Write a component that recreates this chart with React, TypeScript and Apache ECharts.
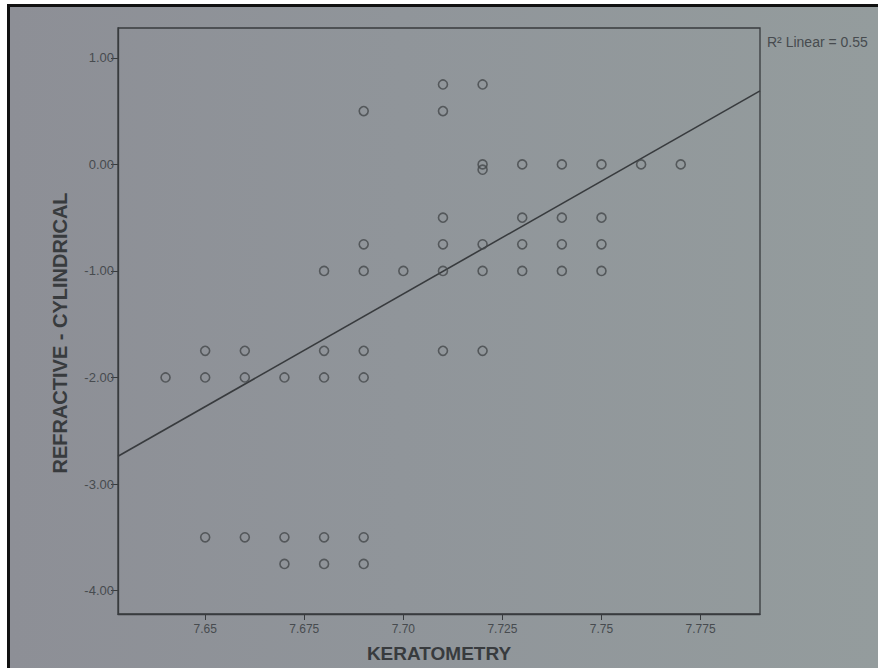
import React, { useEffect, useRef } from "react";
import * as echarts from "echarts";

// Scatter data (KERATOMETRY vs REFRACTIVE - CYLINDRICAL)
const keratometry = [
  7.64,
  7.65, 7.65, 7.65,
  7.66, 7.66, 7.66,
  7.67, 7.67, 7.67,
  7.68, 7.68, 7.68, 7.68, 7.68,
  7.69, 7.69, 7.69, 7.69, 7.69, 7.69, 7.69,
  7.70,
  7.71, 7.71, 7.71, 7.71, 7.71, 7.71,
  7.72, 7.72, 7.72, 7.72, 7.72, 7.72,
  7.73, 7.73, 7.73, 7.73,
  7.74, 7.74, 7.74, 7.74,
  7.75, 7.75, 7.75, 7.75,
  7.76,
  7.77,
];
const cylindrical = [
  -2.0,
  -1.75, -2.0, -3.5,
  -1.75, -2.0, -3.5,
  -2.0, -3.5, -3.75,
  -1.0, -1.75, -2.0, -3.5, -3.75,
  0.5, -0.75, -1.0, -1.75, -2.0, -3.5, -3.75,
  -1.0,
  0.75, 0.5, -0.5, -0.75, -1.0, -1.75,
  0.75, 0.0, -0.05, -0.75, -1.0, -1.75,
  0.0, -0.5, -0.75, -1.0,
  0.0, -0.5, -0.75, -1.0,
  0.0, -0.5, -0.75, -1.0,
  0.0,
  0.0,
];

// Fit line (linear) end values, at the x-axis ends
const fitLineX = [7.628, 7.79];
const fitLineY = [-2.74, 0.69];
const rSquaredLabel = "R\u00B2 Linear = 0.55";

const xTickValues = [7.65, 7.675, 7.7, 7.725, 7.75, 7.775];
const xTickLabels = ["7.65", "7.675", "7.70", "7.725", "7.75", "7.775"];
const yTickValues = [-4, -3, -2, -1, 0, 1];
const yTickLabels = ["-4.00", "-3.00", "-2.00", "-1.00", "0.00", "1.00"];

const xTitle = "KERATOMETRY";
const yTitle = "REFRACTIVE - CYLINDRICAL";

export default function App() {
  const ref = useRef<HTMLDivElement>(null);

  useEffect(() => {
    if (!ref.current) return;
    const chart = echarts.init(ref.current, undefined, { renderer: "svg" });
    const ink = "#383b3e";
    const labelInk = "#474b4f";
    const font = "'Liberation Sans', Arial, sans-serif";

    const points = keratometry.map((k, i) => [k, cylindrical[i]]);
    const fit = fitLineX.map((x, i) => [x, fitLineY[i]]);

    chart.setOption({
      animation: false,
      backgroundColor: "transparent",
      grid: {
        left: 118,
        right: 118,
        top: 28,
        bottom: 50,
        show: true,
        borderColor: ink,
        borderWidth: 1.3,
        backgroundColor: "transparent",
      },
      xAxis: {
        type: "value",
        min: fitLineX[0],
        max: fitLineX[1],
        name: xTitle,
        nameLocation: "middle",
        nameGap: 30,
        nameTextStyle: { fontFamily: font, fontSize: 19, fontWeight: "bold", color: ink },
        axisLine: { show: true, onZero: false, lineStyle: { color: ink, width: 1.3 } },
        axisTick: { show: true, length: 6, customValues: xTickValues, lineStyle: { color: ink } },
        axisLabel: {
          customValues: xTickValues,
          fontFamily: font,
          fontSize: 12,
          color: labelInk,
          margin: 9,
          formatter: (v: number) => {
            const idx = xTickValues.findIndex((t) => Math.abs(t - v) < 1e-6);
            return idx >= 0 ? xTickLabels[idx] : "";
          },
        },
        splitLine: { show: false },
      },
      yAxis: {
        type: "value",
        min: -4.22,
        max: 1.28,
        axisLine: { show: true, onZero: false, lineStyle: { color: ink, width: 1.3 } },
        axisTick: { show: true, length: 7, customValues: yTickValues, lineStyle: { color: ink } },
        axisLabel: {
          customValues: yTickValues,
          fontFamily: font,
          fontSize: 13,
          color: labelInk,
          margin: 4,
          formatter: (v: number) => {
            const idx = yTickValues.findIndex((t) => Math.abs(t - v) < 1e-6);
            return idx >= 0 ? yTickLabels[idx] : "";
          },
        },
        splitLine: { show: false },
      },
      graphic: [
        {
          type: "text",
          x: 60,
          y: 333,
          rotation: Math.PI / 2,
          style: {
            text: yTitle,
            fontFamily: font,
            fontSize: 20,
            fontWeight: "bold",
            fill: ink,
            align: "center",
            verticalAlign: "middle",
          },
        },
        {
          type: "text",
          x: 767,
          y: 42,
          style: {
            text: rSquaredLabel,
            fontFamily: font,
            fontSize: 14,
            fill: labelInk,
            verticalAlign: "middle",
          },
        },
      ],
      series: [
        {
          type: "scatter",
          data: points,
          symbol: "circle",
          symbolSize: 9,
          itemStyle: {
            color: "rgba(0,0,0,0)",
            borderColor: "#45484b",
            borderWidth: 1.6,
          },
          z: 3,
        },
        {
          type: "line",
          data: fit,
          symbol: "none",
          lineStyle: { color: ink, width: 1.6 },
          z: 2,
        },
      ],
    });

    return () => chart.dispose();
  }, []);

  return (
    <div
      style={{
        position: "fixed",
        left: 0,
        top: 0,
        width: 878,
        height: 668,
        background: "#ffffff",
        overflow: "hidden",
      }}
    >
      <div
        style={{
          position: "absolute",
          left: 7,
          top: 4,
          width: 871,
          height: 664,
          background: "#111",
        }}
      />
      <div
        style={{
          position: "absolute",
          left: 10,
          top: 7,
          width: 868,
          height: 661,
          background: "linear-gradient(90deg, #8d8f96 0%, #90959a 45%, #949c9d 100%)",
        }}
      />
      <div ref={ref} style={{ position: "absolute", left: 0, top: 0, width: 878, height: 668 }} />
    </div>
  );
}
